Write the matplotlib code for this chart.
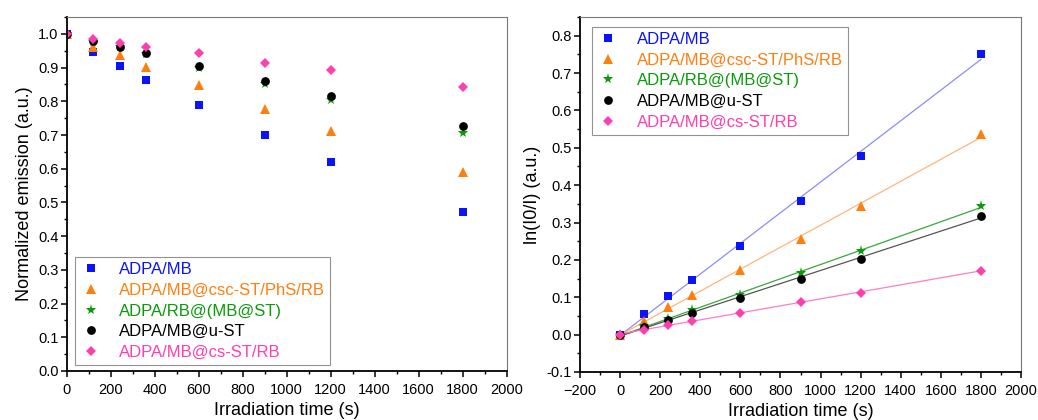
import numpy as np
import matplotlib
matplotlib.use("Agg")
import matplotlib.pyplot as plt
from matplotlib.ticker import MultipleLocator

plt.rcParams['font.family'] = ['Liberation Sans', 'DejaVu Sans']

time = [0, 120, 240, 360, 600, 900, 1200, 1800]
labels = ["ADPA/MB", "ADPA/MB@csc-ST/PhS/RB", "ADPA/RB@(MB@ST)", "ADPA/MB@u-ST", "ADPA/MB@cs-ST/RB"]
colors = ["#0a14f5", "#ff7f0e", "#0a9a0a", "#000000", "#ff3eb0"]
line_colors = ["#8c8cf5", "#ffb47a", "#3aa83a", "#555555", "#ff7cc8"]
markers = ["s", "^", "*", "o", "D"]
msizes = [5.5, 6.5, 8, 6.3, 5.5]

norm_emission = [
    [1.0, 0.947, 0.904, 0.864, 0.789, 0.700, 0.620, 0.471],
    [1.0, 0.960, 0.936, 0.902, 0.848, 0.777, 0.713, 0.589],
    [1.0, 0.975, 0.960, 0.940, 0.899, 0.851, 0.803, 0.707],
    [1.0, 0.978, 0.960, 0.944, 0.906, 0.859, 0.815, 0.727],
    [1.0, 0.986, 0.973, 0.962, 0.942, 0.915, 0.894, 0.842],
]
ln_ratio = [
    [0.0, 0.055, 0.103, 0.146, 0.236, 0.357, 0.478, 0.751],
    [0.0, 0.036, 0.074, 0.106, 0.172, 0.257, 0.344, 0.536],
    [0.0, 0.022, 0.042, 0.067, 0.107, 0.165, 0.223, 0.345],
    [0.0, 0.021, 0.038, 0.058, 0.098, 0.150, 0.203, 0.318],
    [0.0, 0.013, 0.026, 0.037, 0.059, 0.088, 0.112, 0.171],
]

fig = plt.figure(figsize=(10.38, 4.2), dpi=100)
ax1 = fig.add_axes([0.0645, 0.1167, 0.4235, 0.8428])
ax2 = fig.add_axes([0.5588, 0.1143, 0.4248, 0.8452])

def style(ax):
    for s in ['left', 'bottom']:
        ax.spines[s].set_linewidth(1.3)
        ax.spines[s].set_color('black')
    for s in ['top', 'right']:
        ax.spines[s].set_linewidth(0.8)
        ax.spines[s].set_color('#777777')
    ax.tick_params(axis='both', which='major', direction='out', length=4, width=1.1, labelsize=10.5)
    ax.tick_params(axis='y', which='major', pad=2)
    ax.tick_params(axis='x', which='major', pad=5)
    ax.tick_params(axis='both', which='minor', direction='out', length=2.5, width=1.0)
    ax.set_xlabel("Irradiation time (s)", fontsize=13, labelpad=3)

def make_legend(ax, **kw):
    leg = ax.legend(fontsize=12, frameon=True, fancybox=False, edgecolor='#777777',
                    handletextpad=1.05, labelspacing=0.34, borderpad=0.3, handlelength=1.3,
                    borderaxespad=0, **kw)
    leg.get_frame().set_linewidth(0.8)
    for t, c in zip(leg.get_texts(), colors):
        t.set_color(c)
    return leg

# Left panel
for y, c, m, ms, lab in zip(norm_emission, colors, markers, msizes, labels):
    ax1.plot(time, y, linestyle='none', marker=m, color=c, markersize=ms, label=lab, markeredgewidth=0)
ax1.set_xlim(0, 2000)
ax1.set_ylim(0, 1.05)
ax1.xaxis.set_major_locator(MultipleLocator(200))
ax1.xaxis.set_minor_locator(MultipleLocator(100))
ax1.yaxis.set_major_locator(MultipleLocator(0.1))
ax1.yaxis.set_minor_locator(MultipleLocator(0.05))
ax1.yaxis.set_major_formatter(matplotlib.ticker.FormatStrFormatter('%.1f'))
ax1.set_ylabel("Normalized emission (a.u.)", fontsize=13, labelpad=4)
style(ax1)
make_legend(ax1, loc='lower left', bbox_to_anchor=(0.018, 0.017))

# Right panel
for y, c, lc, m, ms, lab in zip(ln_ratio, colors, line_colors, markers, msizes, labels):
    ax2.plot(time, y, linestyle='none', marker=m, color=c, markersize=ms, label=lab, markeredgewidth=0, zorder=3)
    k, b = np.polyfit(time, y, 1)
    xs = np.array([time[0], time[-1]])
    ax2.plot(xs, k * xs + b, color=lc, linewidth=0.9, zorder=2)
ax2.set_xlim(-200, 2000)
ax2.set_ylim(-0.1, 0.85)
ax2.xaxis.set_major_locator(MultipleLocator(200))
ax2.xaxis.set_minor_locator(MultipleLocator(100))
ax2.yaxis.set_major_locator(MultipleLocator(0.1))
ax2.yaxis.set_minor_locator(MultipleLocator(0.05))
ax2.yaxis.set_major_formatter(matplotlib.ticker.FormatStrFormatter('%.1f'))
ax2.xaxis.set_major_formatter(matplotlib.ticker.FuncFormatter(lambda v, p: f"{int(round(v))}".replace('-', '\u2212')))
ax2.set_ylabel("ln(I0/I) (a.u.)", fontsize=13, labelpad=4)
style(ax2)
make_legend(ax2, loc='upper left', bbox_to_anchor=(0.028, 0.972))

fig.savefig("out.png", dpi=100)
